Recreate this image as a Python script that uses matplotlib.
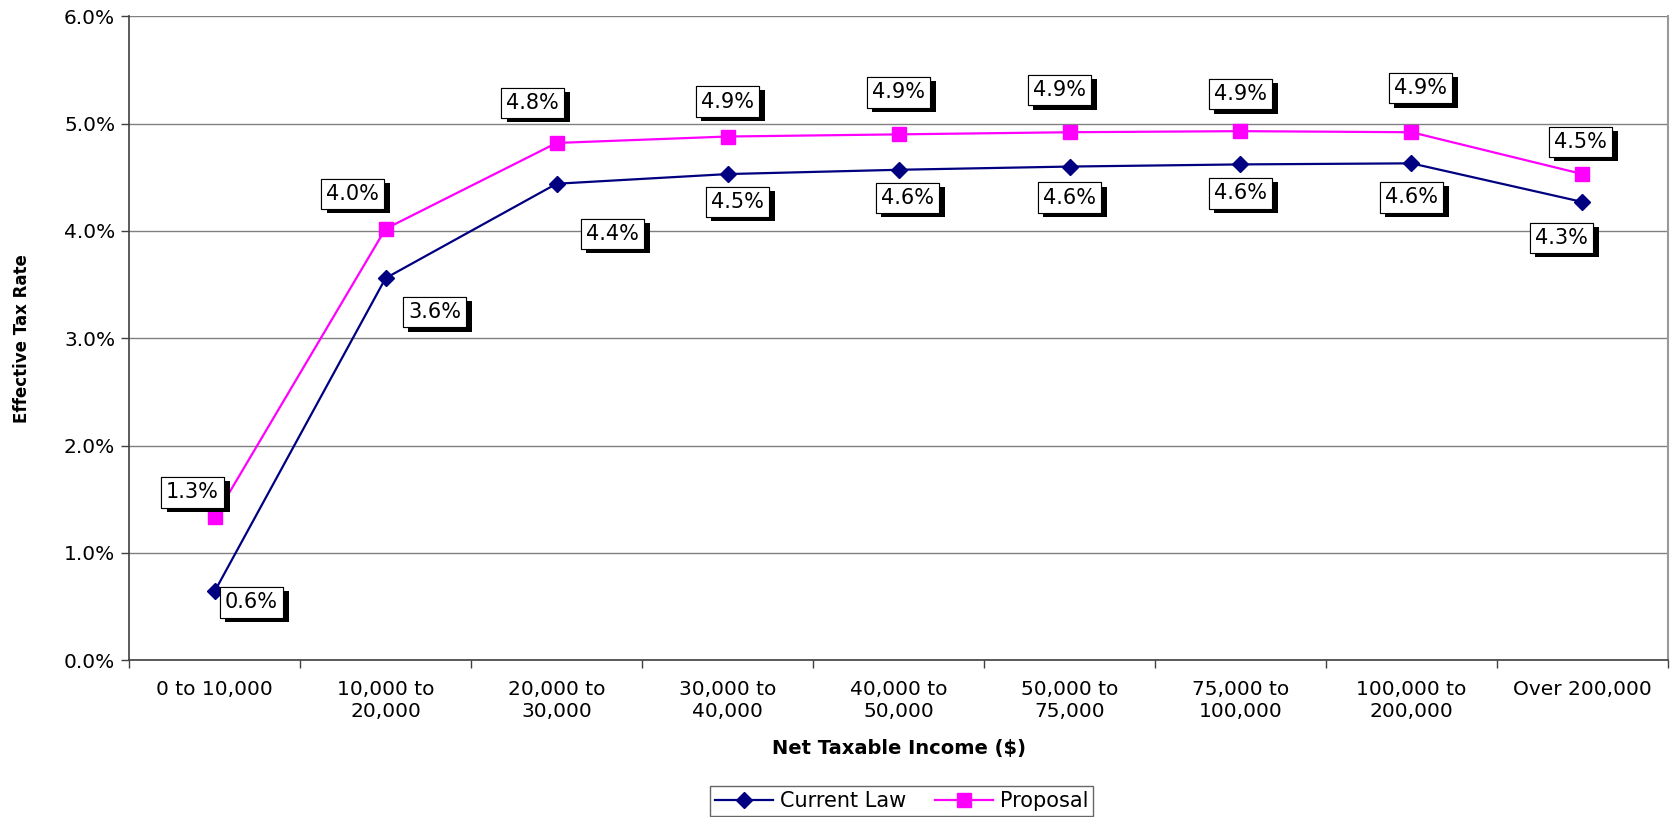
import matplotlib.pyplot as plt
import matplotlib.patheffects as pe
from matplotlib.ticker import FixedLocator, FuncFormatter, NullFormatter

plt.rcParams["font.family"] = ["DejaVu Sans"]

brackets = [
    "0 to 10,000", "10,000 to\n20,000", "20,000 to\n30,000", "30,000 to\n40,000",
    "40,000 to\n50,000", "50,000 to\n75,000", "75,000 to\n100,000",
    "100,000 to\n200,000", "Over 200,000",
]
current_law = [0.64, 3.56, 4.44, 4.53, 4.57, 4.60, 4.62, 4.63, 4.27]
proposal = [1.33, 4.02, 4.82, 4.88, 4.90, 4.92, 4.93, 4.92, 4.53]

# label box offsets in pixels (dx, dy), dy upward
cur_offsets = [(37, -11), (49, -34), (56, -50), (10, -28), (9, -28), (0, -31), (0, -29), (0, -34), (-21, -36)]
prop_offsets = [(-22, 25), (-33, 35), (-24, 40), (0, 35), (0, 42), (-10, 42), (0, 37), (9, 44), (-2, 32)]

NAVY = "#000080"
MAGENTA = "#FF00FF"

fig = plt.figure(figsize=(16.77, 8.17), dpi=100)
ax = fig.add_axes([0.077, 0.192, 0.9176, 0.788])

x = list(range(len(brackets)))
ax.plot(x, current_law, color=NAVY, lw=1.6, marker="D", ms=8.5, label="Current Law", zorder=3)
ax.plot(x, proposal, color=MAGENTA, lw=1.6, marker="s", ms=10, label="Proposal", zorder=3)


def boxed_labels(values, offsets):
    for xi, (v, (dx, dy)) in enumerate(zip(values, offsets)):
        t = ax.annotate(f"{v:.1f}%", (xi, v), xytext=(dx, dy), textcoords="offset pixels",
                        ha="center", va="center", fontsize=15, zorder=5,
                        bbox=dict(boxstyle="square,pad=0.25", fc="white", ec="black", lw=0.8))
        t.get_bbox_patch().set_path_effects(
            [pe.withSimplePatchShadow(offset=(4, -3), shadow_rgbFace="black", alpha=1.0), pe.Normal()])


boxed_labels(proposal, prop_offsets)
boxed_labels(current_law, cur_offsets)

ax.set_xlim(-0.5, len(brackets) - 0.5)
ax.set_ylim(0, 6)
ax.set_yticks([0, 1, 2, 3, 4, 5, 6])
ax.yaxis.set_major_formatter(FuncFormatter(lambda v, _: f"{v:.1f}%"))
ax.yaxis.grid(True, color="#808080", lw=1.0)
ax.set_axisbelow(True)

ax.set_xticks(x)
ax.set_xticklabels(brackets, fontsize=14.5, linespacing=1.2)
ax.xaxis.set_minor_locator(FixedLocator([i + 0.5 for i in range(-1, len(brackets))]))
ax.xaxis.set_minor_formatter(NullFormatter())
ax.tick_params(axis="x", which="major", length=0, pad=14)
ax.tick_params(axis="x", which="minor", length=6, width=1, color="#404040")
ax.tick_params(axis="y", length=6, width=1, color="#404040", labelsize=14.5, pad=4)

for side in ("left", "bottom"):
    ax.spines[side].set_color("#404040")
    ax.spines[side].set_linewidth(1.2)
ax.spines["right"].set_color("#999999")
ax.spines["right"].set_linewidth(1.5)
ax.spines["top"].set_visible(False)

ax.set_xlabel("Net Taxable Income ($)", fontsize=14, fontweight="bold", labelpad=13)
ax.set_ylabel("Effective Tax Rate", fontsize=12, fontweight="bold", labelpad=24)

leg = fig.legend(loc="center", bbox_to_anchor=(0.5376, 0.0195), ncol=2, fontsize=15,
                 frameon=True, fancybox=False, handlelength=2.8, columnspacing=1.4,
                 handletextpad=0.3, borderpad=0.25)
leg.get_frame().set_edgecolor("#404040")
leg.get_frame().set_linewidth(1.0)

fig.savefig("out.png", dpi=100)
